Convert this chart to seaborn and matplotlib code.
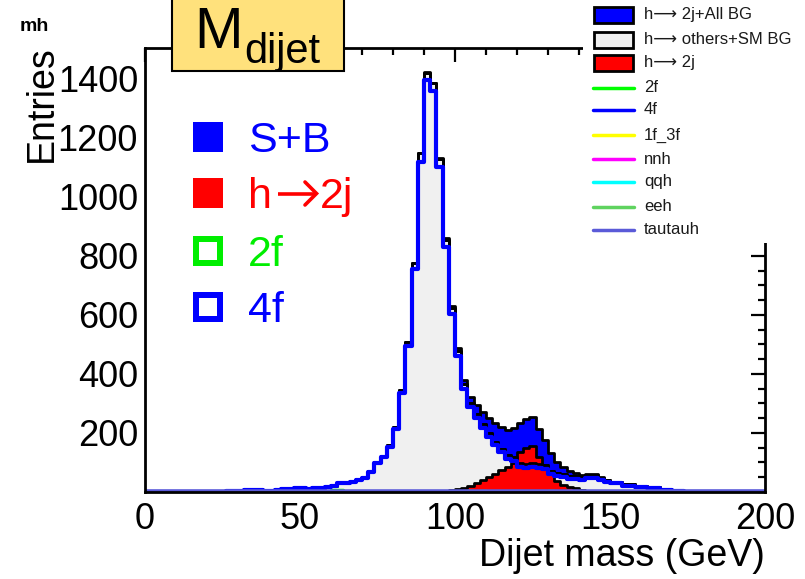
import numpy as np
import pandas as pd
import matplotlib
matplotlib.use("Agg")
import matplotlib.pyplot as plt
import seaborn as sns
from matplotlib.patches import Rectangle
from matplotlib.lines import Line2D
from matplotlib.ticker import FixedLocator, MultipleLocator

# ---------------- data (2 GeV bins, 0-200 GeV) ----------------
bin_lo, bin_hi, bin_width = 0, 200, 2

# h-> others + SM background
sm_bg = [0, 0, 0, 0, 0, 0, 0, 0, 0, 0,
         0, 1, 1, 3, 5, 4, 6, 6, 7, 5,
         5, 7, 9, 10, 13, 12, 11, 12, 14, 20,
         21, 32, 34, 37, 44, 52, 72, 103, 123, 159,
         221, 346, 510, 775, 1148, 1421, 1385, 1128, 855, 622,
         478, 366, 301, 265, 232, 200, 171, 146, 125, 118,
         98, 96, 98, 95, 91, 71, 65, 61, 54, 54,
         50, 56, 58, 49, 40, 35, 35, 27, 27, 20,
         20, 16, 16, 8, 8, 6, 3, 2, 1, 0,
         0, 0, 0, 0, 0, 0, 0, 0, 0, 0]

# h -> 2j signal
h2j = [0, 0, 0, 0, 0, 0, 0, 0, 0, 0,
       0, 0, 0, 0, 0, 0, 0, 0, 0, 0,
       0, 0, 0, 0, 0, 0, 0, 0, 0, 0,
       0, 0, 0, 0, 0, 0, 0, 0, 0, 0,
       0, 0, 0, 1, 1, 1, 2, 3, 5, 7,
       9, 14, 22, 30, 40, 50, 62, 75, 85, 98,
       135, 150, 155, 118, 85, 60, 38, 25, 17, 12,
       8, 5, 3, 2, 1, 0, 0, 0, 0, 0,
       0, 0, 0, 0, 0, 0, 0, 0, 0, 0,
       0, 0, 0, 0, 0, 0, 0, 0, 0, 0]

# individual background lines
f4 = [0, 0, 0, 0, 0, 0, 0, 0, 0, 0,
      0, 1, 1, 3, 5, 4, 6, 6, 7, 5,
      5, 7, 9, 10, 13, 12, 11, 12, 12, 18,
      20, 30, 32, 35, 41, 49, 68, 98, 118, 152,
      212, 335, 495, 755, 1120, 1395, 1358, 1102, 830, 603,
      460, 350, 288, 252, 218, 186, 158, 134, 113, 104,
      86, 83, 84, 80, 77, 60, 54, 51, 45, 45,
      42, 47, 49, 41, 33, 29, 29, 22, 22, 16,
      16, 13, 13, 6, 6, 5, 2, 1, 0, 0,
      0, 0, 0, 0, 0, 0, 0, 0, 0, 0]

f2 = [0, 0, 0, 0, 0, 0, 0, 0, 0, 0,
      0, 0, 0, 0, 0, 0, 0, 0, 0, 0,
      0, 0, 0, 0, 0, 0, 0, 0, 0, 0,
      6, 6, 0, 0, 0, 0, 0, 0, 0, 0,
      0, 0, 0, 0, 0, 0, 0, 0, 0, 0,
      0, 0, 5, 0, 5, 0, 0, 0, 0, 0,
      0, 0, 0, 0, 0, 5, 0, 0, 0, 0,
      0, 0, 0, 0, 0, 0, 0, 0, 0, 0,
      0, 0, 0, 0, 0, 0, 0, 0, 0, 0,
      0, 0, 0, 0, 0, 0, 0, 0, 0, 0]

f1_3f = [0] * 100
nnh = [0] * 100
qqh = [0] * 100
eeh = [0] * 100
tautauh = [0] * 100

x_ticks = [0, 50, 100, 150, 200]
y_ticks = [200, 400, 600, 800, 1000, 1200, 1400]

legend_labels = ["h\u27f6 2j+All BG", "h\u27f6 others+SM BG", "h\u27f6 2j",
                 "2f", "4f", "1f_3f", "nnh", "qqh", "eeh", "tautauh"]
inline_labels = ["S+B", ("h", "2j"), "2f", "4f"]

# ---------------- style ----------------
sns.set_theme(style="white")
plt.rcParams["font.family"] = ["Liberation Sans", "DejaVu Sans"]
plt.rcParams["text.color"] = "black"

W, H = 805, 579
fig = plt.figure(figsize=(W / 100, H / 100), dpi=100)
fx = lambda px: px / W
fy = lambda py: 1 - py / H

ax = fig.add_axes([fx(145), fy(492), (765 - 145) / W, (492 - 48) / H])

edges = np.arange(bin_lo, bin_hi + bin_width, bin_width)
centers = edges[:-1] + bin_width / 2
total = np.array(sm_bg) + np.array(h2j)


def hist(vals, **kw):
    df = pd.DataFrame({"mass": centers, "w": np.asarray(vals, dtype=float)})
    sns.histplot(data=df, x="mass", weights="w", binwidth=bin_width,
                 binrange=(bin_lo, bin_hi), element="step", stat="count",
                 ax=ax, **kw)


BLUE = "#0000ff"
RED = "#ff0000"
GRAY = "#f0f0f0"

hist(total, fill=True, color=BLUE, alpha=1, edgecolor="black", linewidth=2)
hist(sm_bg, fill=True, color=GRAY, alpha=1, edgecolor="black", linewidth=2)
hist(h2j, fill=True, color=RED, alpha=1, edgecolor="black", linewidth=2)
hist(sm_bg, fill=False, color="black", linewidth=2)

line_series = [(f2, "#00ff00", 2.5), (f4, BLUE, 3), (f1_3f, "#ffff00", 2.5),
               (nnh, "#ff00ff", 2.5), (qqh, "#00ffff", 2.5), (eeh, "#5fd35f", 2.5),
               (tautauh, "#5a5ad8", 4)]
for vals, col, lw in line_series:
    hist(vals, fill=False, color=col, linewidth=lw)

ax.set_xlim(bin_lo, bin_hi)
ax.set_ylim(0, 1505)
ax.set_xlabel("")
ax.set_ylabel("")
ax.xaxis.set_major_locator(FixedLocator(x_ticks))
ax.xaxis.set_minor_locator(MultipleLocator(10))
ax.yaxis.set_major_locator(FixedLocator(y_ticks))
ax.yaxis.set_minor_locator(MultipleLocator(50))
ax.set_xticklabels([str(v) for v in x_ticks])
ax.set_yticklabels([str(v) for v in y_ticks])
ax.tick_params(which="both", direction="in", top=True, right=True,
               colors="black", width=1.6)
ax.tick_params(which="major", length=10, labelsize=26)
ax.tick_params(which="minor", length=5)
ax.tick_params(axis="x", which="major", pad=7)
ax.tick_params(axis="y", which="major", pad=5)
for s in ax.spines.values():
    s.set_color("black")
    s.set_linewidth(2)
    s.set_zorder(5)
ax.set_facecolor("white")

# axis titles
fig.text(fx(42), fy(45), "Entries", rotation=90, ha="center", va="top", fontsize=27)
fig.text(fx(765), fy(566), "Dijet mass (GeV)", ha="right", va="baseline", fontsize=27)

# mh tag
fig.text(fx(20), fy(31), "mh", fontsize=14, fontweight="bold", ha="left", va="baseline")

# title box
fig.add_artist(Rectangle((fx(172), fy(71)), (344 - 172) / W, 90 / H,
                         transform=fig.transFigure, facecolor="#ffe17c",
                         edgecolor="black", linewidth=1.5, zorder=3))
fig.text(fx(194), fy(48), "M", fontsize=42, ha="left", va="baseline", zorder=4)
fig.text(fx(244), fy(63), "dijet", fontsize=30, ha="left", va="baseline", zorder=4)

# inline legend (left)
inline_rows = [137, 193, 251, 307]
inline_cols = [BLUE, RED, "#00ee00", BLUE]
inline_fill = [True, True, False, False]
for lab, yc, col, filled in zip(inline_labels, inline_rows, inline_cols, inline_fill):
    s = 30
    if filled:
        fig.add_artist(Rectangle((fx(193), fy(yc + s / 2)), s / W, s / H,
                                 transform=fig.transFigure, facecolor=col,
                                 edgecolor="none", zorder=3))
    else:
        t = 6
        fig.add_artist(Rectangle((fx(193 + t / 2), fy(yc + s / 2 - t / 2)),
                                 (s - t) / W, (s - t) / H,
                                 transform=fig.transFigure, facecolor="none",
                                 edgecolor=col, linewidth=t * 0.72, zorder=3))
    base = yc + 15.5
    if isinstance(lab, tuple):
        # "h -> 2j" with a drawn arrow between the two text parts
        fig.text(fx(248), fy(base), lab[0], color=col, fontsize=31,
                 ha="left", va="baseline", zorder=4)
        ay = yc + 0.5
        fig.add_artist(Line2D([fx(278), fx(316)], [fy(ay), fy(ay)],
                              transform=fig.transFigure, color=col,
                              linewidth=2.6, solid_capstyle="butt", zorder=4))
        fig.add_artist(Line2D([fx(305), fx(316.5), fx(305)],
                              [fy(ay - 11.5), fy(ay), fy(ay + 11.5)],
                              transform=fig.transFigure, color=col,
                              linewidth=2.6, solid_joinstyle="miter", zorder=4))
        fig.text(fx(320), fy(base), lab[1], color=col, fontsize=31,
                 ha="left", va="baseline", zorder=4)
    else:
        fig.text(fx(248), fy(base), lab, color=col, fontsize=31,
                 ha="left", va="baseline", zorder=4)

# right legend
fig.add_artist(Rectangle((fx(583), fy(243)), (W - 583) / W, 243 / H,
                         transform=fig.transFigure, facecolor="white",
                         edgecolor="none", zorder=3))
leg_rows = [15, 40, 63, 88, 110, 135, 159, 182, 207, 230]
leg_style = [("patch", BLUE), ("patch", GRAY), ("patch", RED),
             ("line", "#00ff00"), ("line", BLUE), ("line", "#ffff00"),
             ("line", "#ff00ff"), ("line", "#00ffff"), ("line", "#5fd35f"),
             ("line", "#5a5ad8")]
for lab, yc, (kind, col) in zip(legend_labels, leg_rows, leg_style):
    if kind == "patch":
        fig.add_artist(Rectangle((fx(594), fy(yc + 8)), (633 - 594) / W, 16 / H,
                                 transform=fig.transFigure, facecolor=col,
                                 edgecolor="black", linewidth=2, zorder=4))
    else:
        fig.add_artist(Line2D([fx(593), fx(634)], [fy(yc), fy(yc)],
                              transform=fig.transFigure, color=col,
                              linewidth=2.5, zorder=4))
    fig.text(fx(644), fy(yc), lab, fontsize=12, color="#1a1a1a",
             ha="left", va="center", zorder=5)

fig.savefig("out.png", dpi=100)
